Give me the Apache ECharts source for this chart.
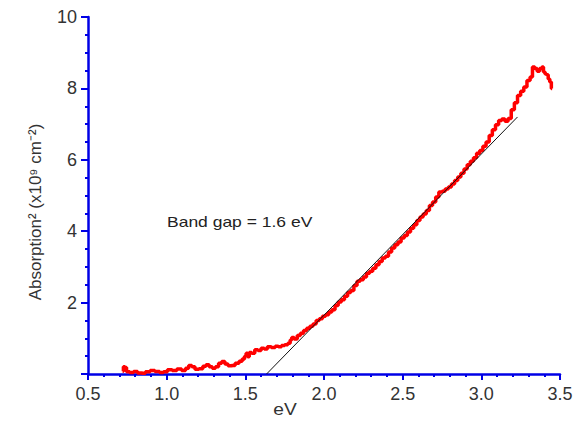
<!DOCTYPE html>
<html>
<head>
<meta charset="utf-8">
<script src="https://cdn.jsdelivr.net/npm/echarts@6/dist/echarts.min.js"></script>
<style>html,body{margin:0;padding:0;background:#fff;}#c{width:581px;height:423px;}</style>
</head>
<body>
<div id="c"></div>
<script>
// Measured absorption^2 (x10^9 cm^-2) vs photon energy (eV)
const energy = [0.72,0.73,0.74,0.75,0.78,0.80,0.83,0.85,0.88,0.91,0.94,0.97,0.99,1.02,1.05,1.08,1.11,1.13,1.15,1.17,1.19,1.22,1.24,1.26,1.28,1.30,1.32,1.34,1.36,1.38,1.40,1.42,1.45,1.47,1.49,1.50,1.51,1.52,1.53,1.55,1.57,1.59,1.61,1.63,1.65,1.68,1.70,1.72,1.74,1.76,1.78,1.79,1.80,1.82,1.84,1.86,1.88,1.90,1.92,1.94,1.96,1.98,2.00,2.02,2.04,2.06,2.08,2.10,2.12,2.14,2.16,2.18,2.20,2.22,2.24,2.26,2.28,2.30,2.32,2.34,2.36,2.38,2.40,2.42,2.44,2.46,2.48,2.50,2.52,2.54,2.56,2.58,2.60,2.62,2.64,2.66,2.68,2.70,2.72,2.74,2.76,2.78,2.80,2.82,2.84,2.86,2.88,2.90,2.92,2.94,2.96,2.98,3.00,3.02,3.04,3.06,3.08,3.10,3.12,3.14,3.16,3.18,3.20,3.22,3.24,3.26,3.28,3.30,3.32,3.33,3.35,3.36,3.38,3.39,3.40,3.41,3.42,3.43,3.44,3.45];
const absorption = [0.08,0.20,0.18,0.06,0.04,0.07,0.03,0.02,0.06,0.10,0.07,0.04,0.06,0.12,0.10,0.14,0.10,0.16,0.24,0.20,0.13,0.15,0.22,0.26,0.20,0.16,0.20,0.30,0.35,0.28,0.23,0.24,0.30,0.36,0.42,0.50,0.58,0.48,0.60,0.58,0.68,0.66,0.72,0.70,0.76,0.74,0.78,0.76,0.80,0.82,0.86,0.95,1.02,0.98,1.08,1.14,1.22,1.28,1.34,1.40,1.50,1.55,1.62,1.66,1.74,1.80,1.92,2.02,2.08,2.18,2.28,2.34,2.48,2.60,2.64,2.72,2.82,2.88,2.96,3.06,3.15,3.25,3.30,3.42,3.53,3.62,3.70,3.81,3.88,3.98,4.08,4.18,4.30,4.40,4.48,4.58,4.72,4.82,4.96,5.10,5.12,5.18,5.24,5.32,5.42,5.52,5.62,5.74,5.86,5.96,6.06,6.18,6.26,6.38,6.50,6.68,6.84,6.98,7.10,7.14,7.08,7.16,7.40,7.60,7.80,7.92,8.04,8.22,8.32,8.60,8.56,8.48,8.56,8.60,8.46,8.40,8.38,8.26,8.18,8.00];
// Linear fit (band-gap extrapolation)
const fitEnergy = [1.635, 3.23];
const fitAbsorption = [0, 7.2];
const xTicks = [0.5, 3.5, 0.5];   // min, max, interval
const yTicks = [0, 10, 2];
const annotation = 'Band gap = 1.6 eV';
const xName = 'eV';
const yName = 'Absorption² (x10⁹ cm⁻²)';

const font = 'Liberation Sans, Arial, sans-serif';
const axisBlue = '#0000e6';
const chart = echarts.init(document.getElementById('c'), null, {renderer: 'svg'});
chart.setOption({
  animation: false,
  backgroundColor: '#fff',
  grid: {left: 88, right: 21, top: 17, bottom: 49},
  xAxis: {
    type: 'value', min: xTicks[0], max: xTicks[1], interval: xTicks[2],
    axisLine: {show: true, onZero: false, lineStyle: {color: axisBlue, width: 2.5}},
    axisTick: {show: true, length: 6, lineStyle: {color: axisBlue, width: 2}},
    minorTick: {show: true, splitNumber: 5, length: 3, lineStyle: {color: axisBlue, width: 2}},
    splitLine: {show: false},
    axisLabel: {margin: 11, color: '#333', fontFamily: font, fontSize: 18, formatter: v => v.toFixed(1)}
  },
  yAxis: {
    type: 'value', min: yTicks[0], max: yTicks[1], interval: yTicks[2],
    axisLine: {show: true, lineStyle: {color: axisBlue, width: 2.5}},
    axisTick: {show: true, length: 7, lineStyle: {color: axisBlue, width: 2}},
    minorTick: {show: true, splitNumber: 4, length: 3, lineStyle: {color: axisBlue, width: 2}},
    splitLine: {show: false},
    axisLabel: {margin: 11, color: '#333', fontFamily: font, fontSize: 18, formatter: v => v === 0 ? '' : String(v)}
  },
  series: [
    {
      type: 'line', step: 'middle', data: energy.map((e, i) => [e, absorption[i]]),
      showSymbol: false, lineStyle: {color: '#ff0000', width: 3.5}, z: 2
    },
    {
      type: 'line', data: fitEnergy.map((e, i) => [e, fitAbsorption[i]]),
      showSymbol: false, lineStyle: {color: '#111', width: 1}, z: 3
    }
  ],
  graphic: [
    {type: 'text', x: 167, y: 222, style: {text: annotation, font: '14px ' + font, fill: '#222', verticalAlign: 'middle', align: 'left'}, scaleX: 1.25},
    {type: 'text', x: 285, y: 410, style: {text: xName, font: '16px ' + font, fill: '#333', align: 'center', verticalAlign: 'middle'}, scaleX: 1.2},
    {type: 'text', x: 35, y: 212, rotation: Math.PI / 2, style: {text: yName, font: '17px ' + font, fill: '#333', align: 'center', verticalAlign: 'middle'}}
  ]
});
</script>
</body>
</html>
